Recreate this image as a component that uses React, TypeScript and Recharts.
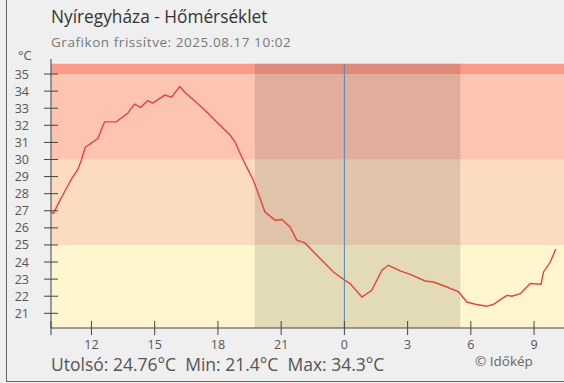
import React from "react";
import {
  ComposedChart,
  Line,
  XAxis,
  YAxis,
  ReferenceArea,
  ReferenceLine,
} from "recharts";

// hours relative to midnight (negative = previous day)
const hours = [
  -13.95, -13.8, -13.58, -13.24, -12.9, -12.65, -12.47, -12.3, -11.7, -11.38,
  -10.83, -10.28, -9.96, -9.66, -9.33, -9.1, -8.52, -8.2, -7.81, -7.55,
  -7.33, -6.9, -6.54, -6.06, -5.43, -5.2, -4.8, -4.55, -4.32, -4.0, -3.77, -3.29,
  -2.97, -2.58, -2.26, -1.87, -1.31, -0.52, 0.03, 0.27, 0.83, 1.3,
  1.78, 2.09, 2.65, 3.12, 3.83, 4.23, 4.86, 5.42, 5.81, 6.21,
  6.76, 7.08, 7.4, 7.72, 7.95, 8.35, 8.82, 9.33, 9.45, 9.77, 10.03,
];
const temps = [
  26.93, 26.85, 27.4, 28.2, 28.95, 29.4, 30.0, 30.7, 31.23, 32.2,
  32.2, 32.7, 33.24, 33.05, 33.45, 33.3, 33.77, 33.65, 34.26, 33.9,
  33.67, 33.2, 32.79, 32.2, 31.43, 31.05, 29.96, 29.35, 28.79, 27.72, 26.93, 26.45,
  26.49, 26.05, 25.28, 25.12, 24.4, 23.42, 22.93, 22.74, 21.95, 22.35,
  23.52, 23.81, 23.48, 23.28, 22.89, 22.83, 22.54, 22.25, 21.66, 21.53,
  21.41, 21.53, 21.8, 22.05, 22.0, 22.15, 22.74, 22.7, 23.42, 24.0, 24.76,
];

const xTicks = [-13.92, -12, -9, -6, -3, 0, 3, 6, 9];
const xTickLabels = ["", "12", "15", "18", "21", "0", "3", "6", "9"];
const yTicks = [21, 22, 23, 24, 25, 26, 27, 28, 29, 30, 31, 32, 33, 34, 35];

const bandEdges = [20.14, 25, 30, 35, 35.6];
const bandColors = ["#fff6cf", "#fcdcc0", "#fdc4b1", "#fa9a88"];
const night = [-4.25, 5.5];

const data = hours.map((h, i) => ({ h, t: temps[i] }));

const FONT = "'Open Sans', 'Noto Sans', sans-serif";

const YTick = (props: any) => {
  const { y, payload } = props;
  return (
    <g>
      <line x1={44} x2={58} y1={y} y2={y} stroke="#444" />
      <text
        x={29}
        y={y}
        textAnchor="end"
        dominantBaseline="central"
        fontSize={12.5}
        fontFamily={FONT}
        fill="#555"
      >
        {payload.value}
      </text>
    </g>
  );
};

const XTick = (props: any) => {
  const { x, payload } = props;
  const idx = xTicks.indexOf(payload.value);
  return (
    <g>
      <line x1={x} x2={x} y1={321} y2={335} stroke="#444" />
      <text
        x={x}
        y={344}
        textAnchor="middle"
        dominantBaseline="central"
        fontSize={12.5}
        fontFamily={FONT}
        fill="#555"
      >
        {idx >= 0 ? xTickLabels[idx] : ""}
      </text>
    </g>
  );
};

export default function App() {
  return (
    <div
      style={{
        position: "fixed",
        left: 0,
        top: 0,
        width: 564,
        height: 383,
        background: "#efefef",
        overflow: "hidden",
        fontFamily: FONT,
      }}
    >
      <div
        style={{
          position: "absolute",
          left: 6,
          top: -10,
          width: 700,
          height: 391,
          borderLeft: "1px solid #666",
          borderBottom: "1px solid #666",
        }}
      />
      <div style={{ position: "absolute", left: 51, top: 5, fontSize: 17.3, color: "#333", whiteSpace: "nowrap" }}>
        Nyíregyháza - Hőmérséklet
      </div>
      <div
        style={{
          position: "absolute",
          left: 51,
          top: 33,
          fontSize: 13.5,
          letterSpacing: 0.55,
          color: "#777",
          whiteSpace: "nowrap",
        }}
      >
        Grafikon frissítve: 2025.08.17 10:02
      </div>
      <div style={{ position: "absolute", left: 18, top: 46, fontSize: 13, color: "#555" }}>°C</div>
      <div style={{ position: "absolute", left: 51, top: 352, fontSize: 17.5, color: "#555", whiteSpace: "pre" }}>
        {"Utolsó: 24.76°C  Min: 21.4°C  Max: 34.3°C"}
      </div>
      <div
        style={{
          position: "absolute",
          left: 475,
          top: 353,
          fontSize: 13.5,
          lineHeight: "16px",
          color: "#666",
          whiteSpace: "nowrap",
        }}
      >
        © Időkép
      </div>
      <div style={{ position: "absolute", left: 0, top: 0 }}>
        <ComposedChart
          width={564}
          height={383}
          data={data}
          margin={{ top: 59, right: 0, bottom: 0, left: 0 }}
        >
          {bandColors.map((c, i) => (
            <ReferenceArea
              key={c}
              y1={bandEdges[i]}
              y2={bandEdges[i + 1]}
              fill={c}
              fillOpacity={1}
              stroke="none"
              ifOverflow="visible"
            />
          ))}
          <ReferenceArea
            x1={night[0]}
            x2={night[1]}
            y1={bandEdges[0]}
            y2={bandEdges[bandEdges.length - 1]}
            fill="#000"
            fillOpacity={0.11}
            stroke="none"
          />
          <XAxis
            type="number"
            dataKey="h"
            domain={[-13.92, 10.42]}
            ticks={xTicks}
            interval={0}
            height={55}
            tickLine={false}
            axisLine={{ stroke: "#444" }}
            tick={<XTick />}
            allowDataOverflow
          />
          <YAxis
            type="number"
            domain={[20.14, 35.88]}
            ticks={yTicks}
            interval={0}
            width={51}
            tickLine={false}
            axisLine={{ stroke: "#444" }}
            tick={<YTick />}
            allowDataOverflow
          />
          <Line
            type="linear"
            dataKey="t"
            stroke="#e0473a"
            strokeWidth={1.4}
            dot={false}
            isAnimationActive={false}
          />
          <ReferenceLine
            segment={[
              { x: 0, y: bandEdges[0] },
              { x: 0, y: bandEdges[bandEdges.length - 1] },
            ]}
            stroke="#4a8ab8"
            strokeWidth={1}
          />
        </ComposedChart>
      </div>
    </div>
  );
}
